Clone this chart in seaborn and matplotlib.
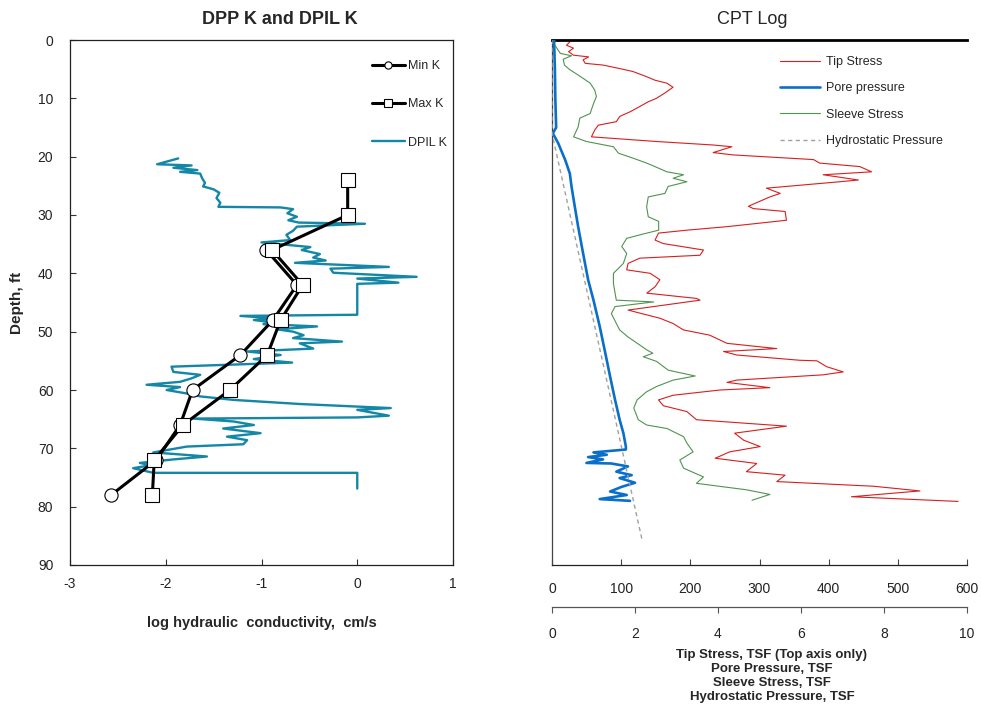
import matplotlib
matplotlib.use("Agg")
import matplotlib.pyplot as plt
import seaborn as sns

# ---- left panel: DPP K (min / max) and DPIL K ----
min_depth = [36, 42, 48, 54, 60, 66, 72, 78]
min_logk = [-0.95, -0.63, -0.88, -1.22, -1.72, -1.85, -2.10, -2.57]
max_depth = [24, 30, 36, 42, 48, 54, 60, 66, 72, 78]
max_logk = [-0.10, -0.10, -0.89, -0.57, -0.80, -0.94, -1.33, -1.82, -2.12, -2.14]

dpil_depth = [20.3, 21.3, 21.5, 21.9, 22.3, 22.6, 22.9, 23.7, 24.5, 25.1, 25.6, 26.2,
              27.1, 27.9, 28.6, 28.7, 29.0, 29.7, 30.3, 30.9, 31.3, 31.5, 32.0, 32.7,
              33.4, 34.3, 34.7, 35.5, 36.0, 36.7, 37.3, 37.8, 38.2, 38.9, 39.2, 39.9,
              40.6, 40.9, 41.6, 41.8, 47.1, 47.3, 47.7, 48.0, 48.5, 48.7, 49.1, 49.6,
              50.0, 50.6, 51.1, 51.7, 52.0, 52.9, 53.4, 54.0, 54.7, 55.3, 56.0, 56.9,
              57.4, 58.0, 58.6, 59.1, 59.5, 60.0, 60.6, 61.1, 61.7, 62.4, 63.1, 63.4,
              64.4, 64.7, 64.9, 65.4, 66.0, 66.6, 67.4, 68.0, 68.6, 69.3, 69.7, 70.7,
              71.4, 71.9, 72.5, 72.9, 73.4, 74.2, 74.2, 76.9]
dpil_logk = [-1.87, -2.09, -1.73, -1.92, -1.67, -1.85, -1.64, -1.62, -1.59, -1.61, -1.50, -1.44,
             -1.47, -1.43, -1.45, -0.80, -0.67, -0.73, -0.63, -0.72, -0.61, 0.08, -0.63, -0.67,
             -0.74, -0.70, -1.00, -0.49, -0.58, -0.39, -0.46, -0.33, -0.65, 0.33, -0.28, -0.25,
             0.62, 0.00, 0.43, 0.00, 0.00, -1.22, -0.87, -1.08, -0.84, -0.98, -0.42, -0.84,
             -0.67, -0.56, -0.67, -0.16, -0.60, -0.46, -1.15, -0.80, -1.08, -0.68, -1.94, -1.92,
             -1.64, -1.73, -1.85, -2.20, -1.85, -1.99, -1.78, -1.64, -1.29, -0.60, 0.35, 0.00,
             0.33, 0.00, -1.71, -1.29, -1.08, -1.40, -1.01, -1.36, -1.15, -1.19, -1.78, -2.13,
             -1.57, -1.92, -2.27, -2.16, -2.34, -2.13, 0.00, 0.00]

# ---- right panel: CPT log ----
tip_depth = [0.3, 0.9, 1.4, 2.0, 2.6, 2.9, 3.4, 4.0, 4.3, 4.9, 5.4, 6.3, 6.9, 7.4, 8.1, 9.1,
             10.0, 10.6, 11.4, 12.3, 13.1, 14.0, 14.6, 15.4, 16.6, 17.4, 18.0, 18.3, 19.3,
             19.7, 20.5, 21.1, 21.7, 22.6, 23.1, 24.0, 24.3, 25.1, 25.4, 26.3, 26.9, 28.5,
             28.9, 29.4, 30.9, 32.0, 32.6, 33.1, 34.3, 34.9, 36.0, 36.9, 37.4, 38.3, 39.4,
             40.0, 41.1, 42.3, 43.4, 44.3, 44.6, 46.3, 47.7, 48.6, 49.7, 50.6, 52.0, 52.9,
             53.4, 54.0, 54.9, 55.0, 56.0, 56.9, 57.4, 58.3, 58.7, 59.6, 60.0, 60.9, 61.7,
             62.7, 63.7, 65.1, 66.2, 67.4, 68.6, 69.7, 70.6, 71.7, 72.6, 74.0, 74.6, 75.7,
             76.5, 77.3, 78.3, 79.1]
tip_tsf = [26, 21, 31, 24, 31, 53, 45, 48, 74, 98, 117, 137, 149, 166, 175, 163,
           151, 139, 127, 113, 98, 93, 67, 62, 57, 151, 233, 260, 233,
           262, 378, 387, 445, 462, 392, 443, 416, 339, 310, 330, 315, 284,
           291, 337, 339, 253, 195, 154, 149, 161, 219, 214, 127, 110, 108,
           142, 156, 149, 137, 209, 214, 110, 156, 175, 190, 228, 253, 325,
           248, 267, 358, 383, 397, 421, 392, 267, 253, 315, 243, 175, 154,
           161, 195, 209, 339, 264, 277, 301, 257, 236, 296, 281, 337, 325,
           465, 532, 433, 587]

pore_depth = [0, 5, 10, 15, 16, 17.7, 20.6, 22.9, 25.1, 28.6, 32.0, 36.6, 41.1, 44.6,
              49.1, 54.9, 57.7, 61.7, 65.1, 67.4, 69.7, 70.2, 70.7, 71.1, 71.5, 71.9,
              72.5, 72.6, 73.1, 74.0, 74.6, 75.1, 75.9, 76.6, 77.4, 78.0, 78.7, 79.0]
pore_tsf = [0.05, 0.07, 0.08, 0.10, 0.02, 0.15, 0.32, 0.43, 0.47, 0.55, 0.63, 0.75, 0.87, 1.00,
            1.15, 1.32, 1.40, 1.52, 1.63, 1.72, 1.78, 1.78, 1.00, 1.32, 0.87, 1.23,
            0.83, 1.43, 1.83, 1.55, 1.92, 1.63, 2.00, 1.68, 1.40, 1.80, 1.15, 1.88]

sleeve_depth = [0.9, 2.3, 2.7, 3.3, 4.3, 5.1, 6.0, 7.4, 8.6, 9.7, 10.9, 12.6, 13.4, 14.9,
                16.6, 17.4, 18.3, 19.4, 20.3, 21.1, 21.7, 22.6, 23.1, 23.7, 24.3, 25.1,
                26.3, 26.9, 28.6, 30.3, 31.1, 32.6, 33.4, 34.0, 35.4, 36.6, 38.3, 40.0,
                41.7, 43.4, 44.6, 44.9, 45.7, 46.9, 49.7, 50.9, 53.1, 53.7, 54.3, 55.1,
                56.6, 57.6, 58.3, 59.4, 60.3, 61.7, 63.1, 65.1, 66.0, 66.6, 68.0, 69.1,
                70.6, 72.0, 73.4, 74.9, 76.0, 77.1, 77.9, 78.9]
sleeve_tsf = [0.07, 0.20, 0.47, 0.27, 0.30, 0.43, 0.63, 0.92, 1.03, 1.07, 1.00, 0.92, 0.67, 0.63,
              0.52, 0.83, 1.48, 1.60, 1.97, 2.28, 2.48, 2.77, 3.17, 2.92, 3.25, 2.80,
              2.72, 2.32, 2.28, 2.32, 2.57, 2.57, 2.12, 1.80, 1.68, 1.80, 1.72, 1.48,
              1.48, 1.52, 1.55, 2.45, 1.52, 1.43, 1.63, 1.83, 2.28, 2.43, 2.20, 2.52,
              2.80, 3.45, 2.92, 2.52, 2.28, 2.05, 1.97, 2.08, 2.28, 2.77, 3.17, 3.25,
              3.40, 3.08, 3.17, 3.65, 3.48, 4.68, 5.25, 4.82]

hydro_depth = [0, 16, 86]
hydro_tsf = [0.0, 0.0, 2.18]

sns.set_theme(style="white")
plt.rcParams["font.family"] = ["Liberation Sans", "DejaVu Sans"]
plt.rcParams["axes.unicode_minus"] = False

fig = plt.figure(figsize=(9.81, 7.06), dpi=100)
W, H = 981.0, 706.0
ax = fig.add_axes([70 / W, 1 - 565 / H, 383 / W, 525 / H])
axr = fig.add_axes([552 / W, 1 - 565 / H, 415 / W, 525 / H])

# left panel
sns.lineplot(x=dpil_logk, y=dpil_depth, sort=False, estimator=None, ax=ax,
             color="#1486a6", linewidth=1.7, label="DPIL K", zorder=2)
sns.lineplot(x=min_logk, y=min_depth, sort=False, estimator=None, ax=ax,
             color="black", linewidth=2.2, marker="o", markersize=9.5,
             markerfacecolor="white", markeredgecolor="black", markeredgewidth=0.8,
             label="Min K", zorder=3)
sns.lineplot(x=max_logk, y=max_depth, sort=False, estimator=None, ax=ax,
             color="black", linewidth=2.2, marker="s", markersize=9.5,
             markerfacecolor="white", markeredgecolor="black", markeredgewidth=0.8,
             label="Max K", zorder=3)
ax.set_xlim(-3, 1)
ax.set_ylim(90, 0)
ax.set_xticks([-3, -2, -1, 0, 1])
ax.set_yticks(range(0, 91, 10))
ax.tick_params(direction="in", length=4, width=0.8, colors="#333333",
               labelsize=10, labelcolor="#222222")
ax.tick_params(axis="x", pad=9)
ax.tick_params(axis="y", pad=12, left=True)
ax.tick_params(axis="x", bottom=True)
for s in ax.spines.values():
    s.set_color("#222222")
    s.set_linewidth(0.9)
ax.set_xlabel("log hydraulic  conductivity,  cm/s", fontsize=10.5, fontweight="bold",
              labelpad=18)
ax.set_ylabel("Depth, ft", fontsize=11, fontweight="bold", labelpad=10)
h, l = ax.get_legend_handles_labels()
order = [l.index("Min K"), l.index("Max K"), l.index("DPIL K")]
ax.legend([h[i] for i in order], [l[i] for i in order], loc="upper left",
          bbox_to_anchor=(372 / W, 1 - 60 / H), bbox_transform=fig.transFigure,
          frameon=False, fontsize=9, labelspacing=2.1, handlelength=2.6,
          handletextpad=0.3, borderpad=0, borderaxespad=0, markerscale=0.55)
fig.text(280 / W, 1 - 19 / H, "DPP K and DPIL K", ha="center", va="center",
         fontsize=13, fontweight="bold")

# right panel
ax2 = axr.twiny()
sns.lineplot(x=tip_tsf, y=tip_depth, sort=False, estimator=None, ax=axr,
             color="#d81e1e", linewidth=0.8, label="Tip Stress")
sns.lineplot(x=pore_tsf, y=pore_depth, sort=False, estimator=None, ax=ax2,
             color="#0a6fc8", linewidth=1.9, label="Pore pressure")
sns.lineplot(x=sleeve_tsf, y=sleeve_depth, sort=False, estimator=None, ax=ax2,
             color="#4f944f", linewidth=0.8, label="Sleeve Stress")
sns.lineplot(x=hydro_tsf, y=hydro_depth, sort=False, estimator=None, ax=ax2,
             color="#a0a0a0", linewidth=1.0, linestyle=(0, (3, 2.5)),
             label="Hydrostatic Pressure")
axr.set_xlim(0, 600)
axr.set_ylim(90, 0)
axr.set_xticks(range(0, 601, 100))
axr.set_yticks([])
axr.tick_params(axis="x", direction="in", length=4, width=0.8, colors="#444444",
                labelsize=10, labelcolor="#222222", pad=12, bottom=True)
axr.spines["right"].set_visible(False)
axr.spines["top"].set_color("black")
axr.spines["top"].set_linewidth(2)
axr.spines["left"].set_color("#444444")
axr.spines["left"].set_linewidth(0.9)
axr.spines["bottom"].set_color("#222222")
axr.spines["bottom"].set_linewidth(0.9)

ax2.set_xlim(0, 10)
ax2.set_xticks(range(0, 11, 2))
ax2.xaxis.set_ticks_position("bottom")
ax2.xaxis.set_label_position("bottom")
ax2.spines["bottom"].set_position(("outward", 30))
ax2.spines["bottom"].set_color("#555555")
ax2.spines["bottom"].set_linewidth(0.9)
for side in ["top", "left", "right"]:
    ax2.spines[side].set_visible(False)
ax2.tick_params(axis="x", direction="out", length=4, width=0.8, colors="#555555",
                labelsize=10, labelcolor="#222222", pad=11, bottom=True, top=False)

h1, l1 = axr.get_legend_handles_labels()
h2, l2 = ax2.get_legend_handles_labels()
if ax2.get_legend() is not None:
    ax2.get_legend().remove()
axr.legend(h1 + h2, l1 + l2, loc="upper left",
           bbox_to_anchor=(780 / W, 1 - 56 / H), bbox_transform=fig.transFigure,
           frameon=False, fontsize=9, labelspacing=1.15, handlelength=3.2,
           handletextpad=0.5, borderpad=0, borderaxespad=0)
fig.text(752 / W, 1 - 19 / H, "CPT Log", ha="center", va="center", fontsize=13)
fig.text(772 / W, 1 - 676 / H,
         "Tip Stress, TSF (Top axis only)\nPore Pressure, TSF\nSleeve Stress, TSF\n"
         "Hydrostatic Pressure, TSF",
         ha="center", va="center", fontsize=9.5, fontweight="bold", linespacing=1.2)

fig.savefig("out.png", dpi=100)
